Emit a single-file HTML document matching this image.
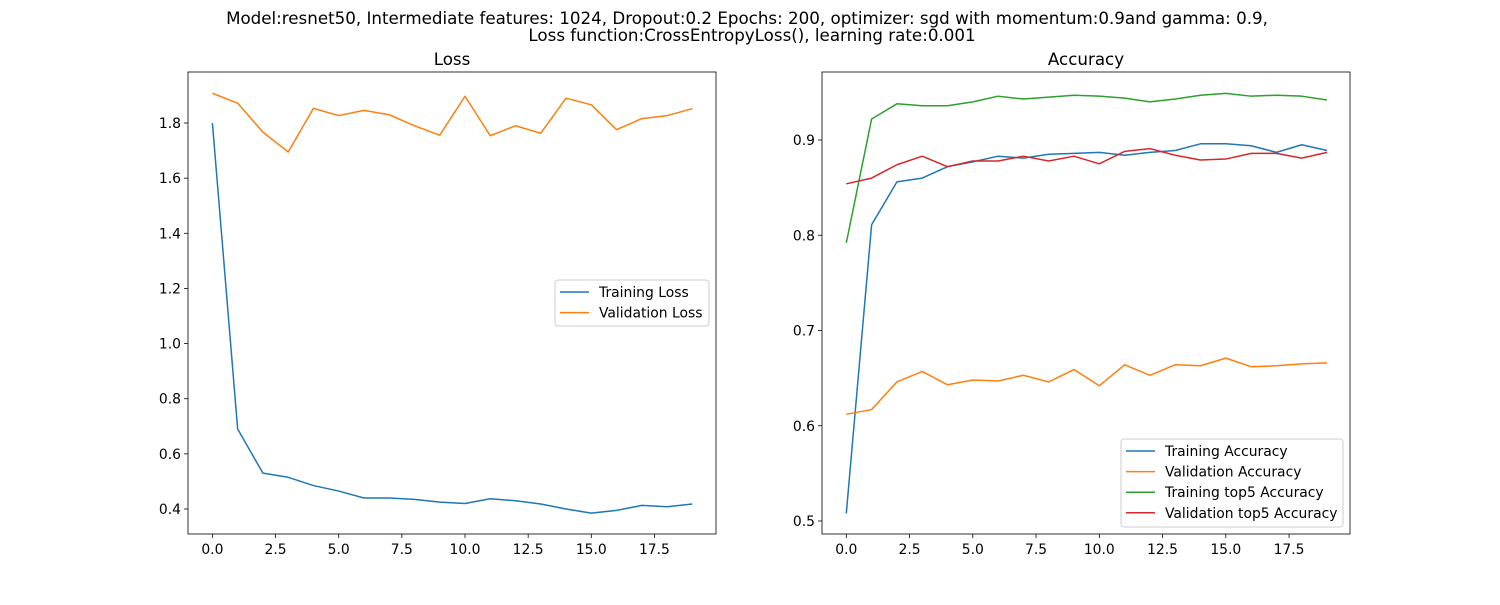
<!DOCTYPE html>
<html><head><meta charset="utf-8"><style>
body{margin:0;background:#fff}
svg text{font-family:"DejaVu Sans","Liberation Sans",sans-serif;fill:#000}
</style></head><body>
<svg id="c" width="1500" height="600" xmlns="http://www.w3.org/2000/svg">
<rect width="1500" height="600" fill="#fff"/>
<text x="747" y="24" font-size="16.7" text-anchor="middle">Model:resnet50, Intermediate features: 1024, Dropout:0.2 Epochs: 200, optimizer: sgd with momentum:0.9and gamma: 0.9,</text>
<text x="752" y="41" font-size="16.7" text-anchor="middle">Loss function:CrossEntropyLoss(), learning rate:0.001</text>
</svg>
<script>
const epochs=[0,1,2,3,4,5,6,7,8,9,10,11,12,13,14,15,16,17,18,19];
const trainLoss=[1.80,0.69,0.53,0.515,0.485,0.465,0.44,0.44,0.435,0.425,0.42,0.437,0.43,0.418,0.40,0.385,0.395,0.413,0.408,0.418];
const valLoss=[1.908,1.872,1.767,1.695,1.853,1.827,1.846,1.830,1.79,1.756,1.897,1.754,1.79,1.763,1.89,1.866,1.776,1.816,1.827,1.852];
const trainAcc=[0.508,0.811,0.856,0.860,0.872,0.877,0.883,0.881,0.885,0.886,0.887,0.884,0.887,0.889,0.896,0.896,0.894,0.887,0.895,0.889];
const valAcc=[0.612,0.617,0.646,0.657,0.643,0.648,0.647,0.653,0.646,0.659,0.642,0.664,0.653,0.664,0.663,0.671,0.662,0.663,0.665,0.666];
const trainTop5=[0.792,0.922,0.938,0.936,0.936,0.940,0.946,0.943,0.945,0.947,0.946,0.944,0.940,0.943,0.947,0.949,0.946,0.947,0.946,0.942];
const valTop5=[0.854,0.860,0.874,0.883,0.872,0.878,0.878,0.883,0.878,0.883,0.875,0.888,0.891,0.884,0.879,0.880,0.886,0.886,0.881,0.887];
const xTicks=[0,2.5,5,7.5,10,12.5,15,17.5];
const xTickLabels=["0.0","2.5","5.0","7.5","10.0","12.5","15.0","17.5"];
const lossTicks=[0.4,0.6,0.8,1.0,1.2,1.4,1.6,1.8];
const accTicks=[0.5,0.6,0.7,0.8,0.9];

const svg=document.getElementById('c');
const NS='http://www.w3.org/2000/svg';
function mk(tag,attrs,parent){const e=document.createElementNS(NS,tag);for(const k in attrs)e.setAttribute(k,attrs[k]);(parent||svg).appendChild(e);return e;}

function panel(name,L,R,T,B,x0,xs,y0v,y0p,yscale,yTicks,yDec,title,series,legend){
  const g=mk('g',{});
  
  
  const X=v=>x0+v*xs, Y=v=>y0p-(v-y0v)*yscale;
  const t=mk('text',{x:(L+R)/2,y:T-7,'font-size':16.7,'text-anchor':'middle'},g);t.textContent=title;
  
  
  xTicks.forEach((v,i)=>{
    mk('line',{x1:X(v),x2:X(v),y1:B,y2:B+4,stroke:'#000','stroke-width':0.8},g);
    const tx=mk('text',{x:X(v),y:B+20,'font-size':13.9,'text-anchor':'middle'},g);tx.textContent=xTickLabels[i];
    
    
  });
  yTicks.forEach(v=>{
    mk('line',{x1:L-4,x2:L,y1:Y(v),y2:Y(v),stroke:'#000','stroke-width':0.8},g);
    const ty=mk('text',{x:L-7,y:Y(v)+5,'font-size':13.9,'text-anchor':'end'},g);ty.textContent=v.toFixed(yDec);
    
    
  });
  series.forEach(s=>{
    const p=mk('polyline',{points:s.d.map((v,i)=>X(epochs[i])+','+Y(v)).join(' '),fill:'none',stroke:s.c,'stroke-width':1.5,'stroke-linejoin':'round'},g);
    
    
  });
  mk('rect',{x:L,y:T,width:R-L,height:B-T,fill:'none',stroke:'#000','stroke-width':0.8},g);
  const lg=mk('g',{},g);
  
  
  mk('rect',{x:legend.x,y:legend.y,width:legend.w,height:legend.h,rx:3,fill:'#fff','fill-opacity':0.8,stroke:'#ccc'},lg);
  series.forEach((s,i)=>{
    const yy=legend.y+12+i*20.6;
    mk('line',{x1:legend.x+5,x2:legend.x+34,y1:yy,y2:yy,stroke:s.c,'stroke-width':1.5},lg);
    const lt=mk('text',{x:legend.x+44,y:yy+5,'font-size':13.9},lg);lt.textContent=s.label;
    
    
  });
}
panel('loss',188,716,72,534,212.4,25.26,0.4,509,275.7,lossTicks,1,'Loss',[
  {d:trainLoss,c:'#1f77b4',label:'Training Loss',n:'training-loss-line'},
  {d:valLoss,c:'#ff7f0e',label:'Validation Loss',n:'validation-loss-line'}],{x:555,y:280,w:154,h:46});
panel('accuracy',822,1350,72,534,846.3,25.3,0.5,521,952.5,accTicks,1,'Accuracy',[
  {d:trainAcc,c:'#1f77b4',label:'Training Accuracy',n:'training-accuracy-line'},
  {d:valAcc,c:'#ff7f0e',label:'Validation Accuracy',n:'validation-accuracy-line'},
  {d:trainTop5,c:'#2ca02c',label:'Training top5 Accuracy',n:'training-top5-line'},
  {d:valTop5,c:'#d62728',label:'Validation top5 Accuracy',n:'validation-top5-line'}],{x:1121,y:439,w:222,h:88});
</script>
</body></html>
